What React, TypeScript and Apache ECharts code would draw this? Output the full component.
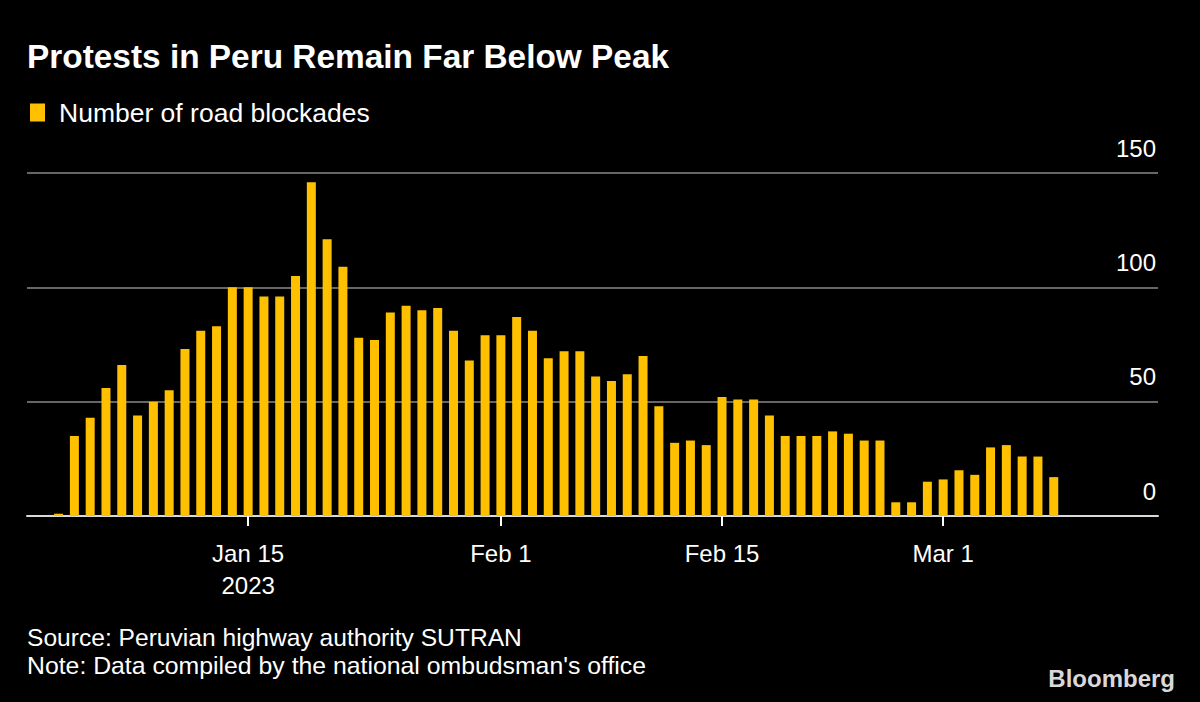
import React, { useEffect, useRef } from "react";
import * as echarts from "echarts";

const FONT = "'Liberation Sans', Arial, Helvetica, sans-serif";

// One bar per reported day (64 bars)
const dayIndex: number[] = Array.from({ length: 64 }, (_, i) => i);

const blockades: number[] = [
  1, 35, 43, 56, 66, 44, 50, 55, 73, 81, 83, 100, 100, 96, 96, 105, 146, 121, 109, 78,
  77, 89, 92, 90, 91, 81, 68, 79, 79, 87, 81, 69, 72, 72, 61, 59, 62, 70, 48, 32,
  33, 31, 52, 51, 51, 44, 35, 35, 35, 37, 36, 33, 33, 6, 6, 15, 16, 20, 18, 30,
  31, 26, 26, 17,
];

const tickIndices: number[] = [12, 28, 42, 56];
const tickLabels: string[] = ["Jan 15\n2023", "Feb 1", "Feb 15", "Mar 1"];

const yMin = 0;
const yMax = 150;
const yStep = 50;

const titleText = "Protests in Peru Remain Far Below Peak";
const seriesName = "Number of road blockades";
const sourceText = "Source: Peruvian highway authority SUTRAN";
const noteText = "Note: Data compiled by the national ombudsman's office";

export default function App() {
  const ref = useRef<HTMLDivElement>(null);

  useEffect(() => {
    if (!ref.current) return;
    const chart = echarts.init(ref.current, null, { renderer: "svg" });
    chart.setOption({
      animation: false,
      backgroundColor: "#000000",
      textStyle: { fontFamily: FONT },
      title: {
        text: titleText,
        left: 27,
        top: 40,
        padding: 0,
        textStyle: { color: "#ffffff", fontSize: 33.4, fontWeight: "bold", fontFamily: FONT },
      },
      legend: {
        left: 30,
        top: 99,
        padding: 0,
        icon: "rect",
        itemWidth: 15,
        itemHeight: 18,
        itemGap: 10,
        data: [seriesName],
        textStyle: { color: "#ffffff", fontSize: 26.5, fontFamily: FONT, padding: [0, 0, 0, 9] },
      },
      grid: { left: 27, right: 42, top: 173, bottom: 186 },
      xAxis: {
        type: "value",
        min: -2,
        max: 69.6,
        axisLine: { show: true, onZero: false, lineStyle: { color: "#d9d9d9", width: 2 } },
        axisTick: {
          show: true,
          customValues: tickIndices,
          length: 10,
          lineStyle: { color: "#ffffff", width: 2 },
        },
        axisLabel: {
          customValues: tickIndices,
          formatter: (v: number) => {
            const k = tickIndices.indexOf(Math.round(v));
            return k >= 0 ? tickLabels[k] : "";
          },
          color: "#ffffff",
          fontSize: 24,
          lineHeight: 32,
          margin: 21,
          fontFamily: FONT,
        },
        splitLine: { show: false },
      },
      yAxis: {
        type: "value",
        position: "right",
        min: yMin,
        max: yMax,
        interval: yStep,
        axisLine: { show: false },
        axisTick: { show: false },
        axisLabel: {
          inside: true,
          margin: 2,
          color: "#ffffff",
          fontSize: 24,
          lineHeight: 24,
          verticalAlign: "bottom",
          padding: [0, 0, 13, 0],
          fontFamily: FONT,
        },
        splitLine: { show: true, lineStyle: { color: "#666666", width: 2 } },
      },
      series: [
        {
          type: "bar",
          name: seriesName,
          data: blockades.map((v, i) => [dayIndex[i], v]),
          barWidth: 9,
          itemStyle: { color: "#ffc000" },
        },
      ],
      graphic: [
        {
          type: "text",
          left: 27,
          top: 625,
          style: { text: sourceText, fill: "#ffffff", fontSize: 24.6, fontFamily: FONT },
        },
        {
          type: "text",
          left: 27,
          top: 653,
          style: { text: noteText, fill: "#ffffff", fontSize: 24.8, fontFamily: FONT },
        },
        {
          type: "text",
          right: 25,
          top: 666,
          style: {
            text: "Bloomberg",
            fill: "#d9d9d9",
            fontSize: 24,
            fontWeight: "bold",
            fontFamily: FONT,
          },
        },
      ],
    });
    return () => chart.dispose();
  }, []);

  return (
    <div
      ref={ref}
      style={{ position: "fixed", left: 0, top: 0, width: 1200, height: 702, background: "#000" }}
    />
  );
}
